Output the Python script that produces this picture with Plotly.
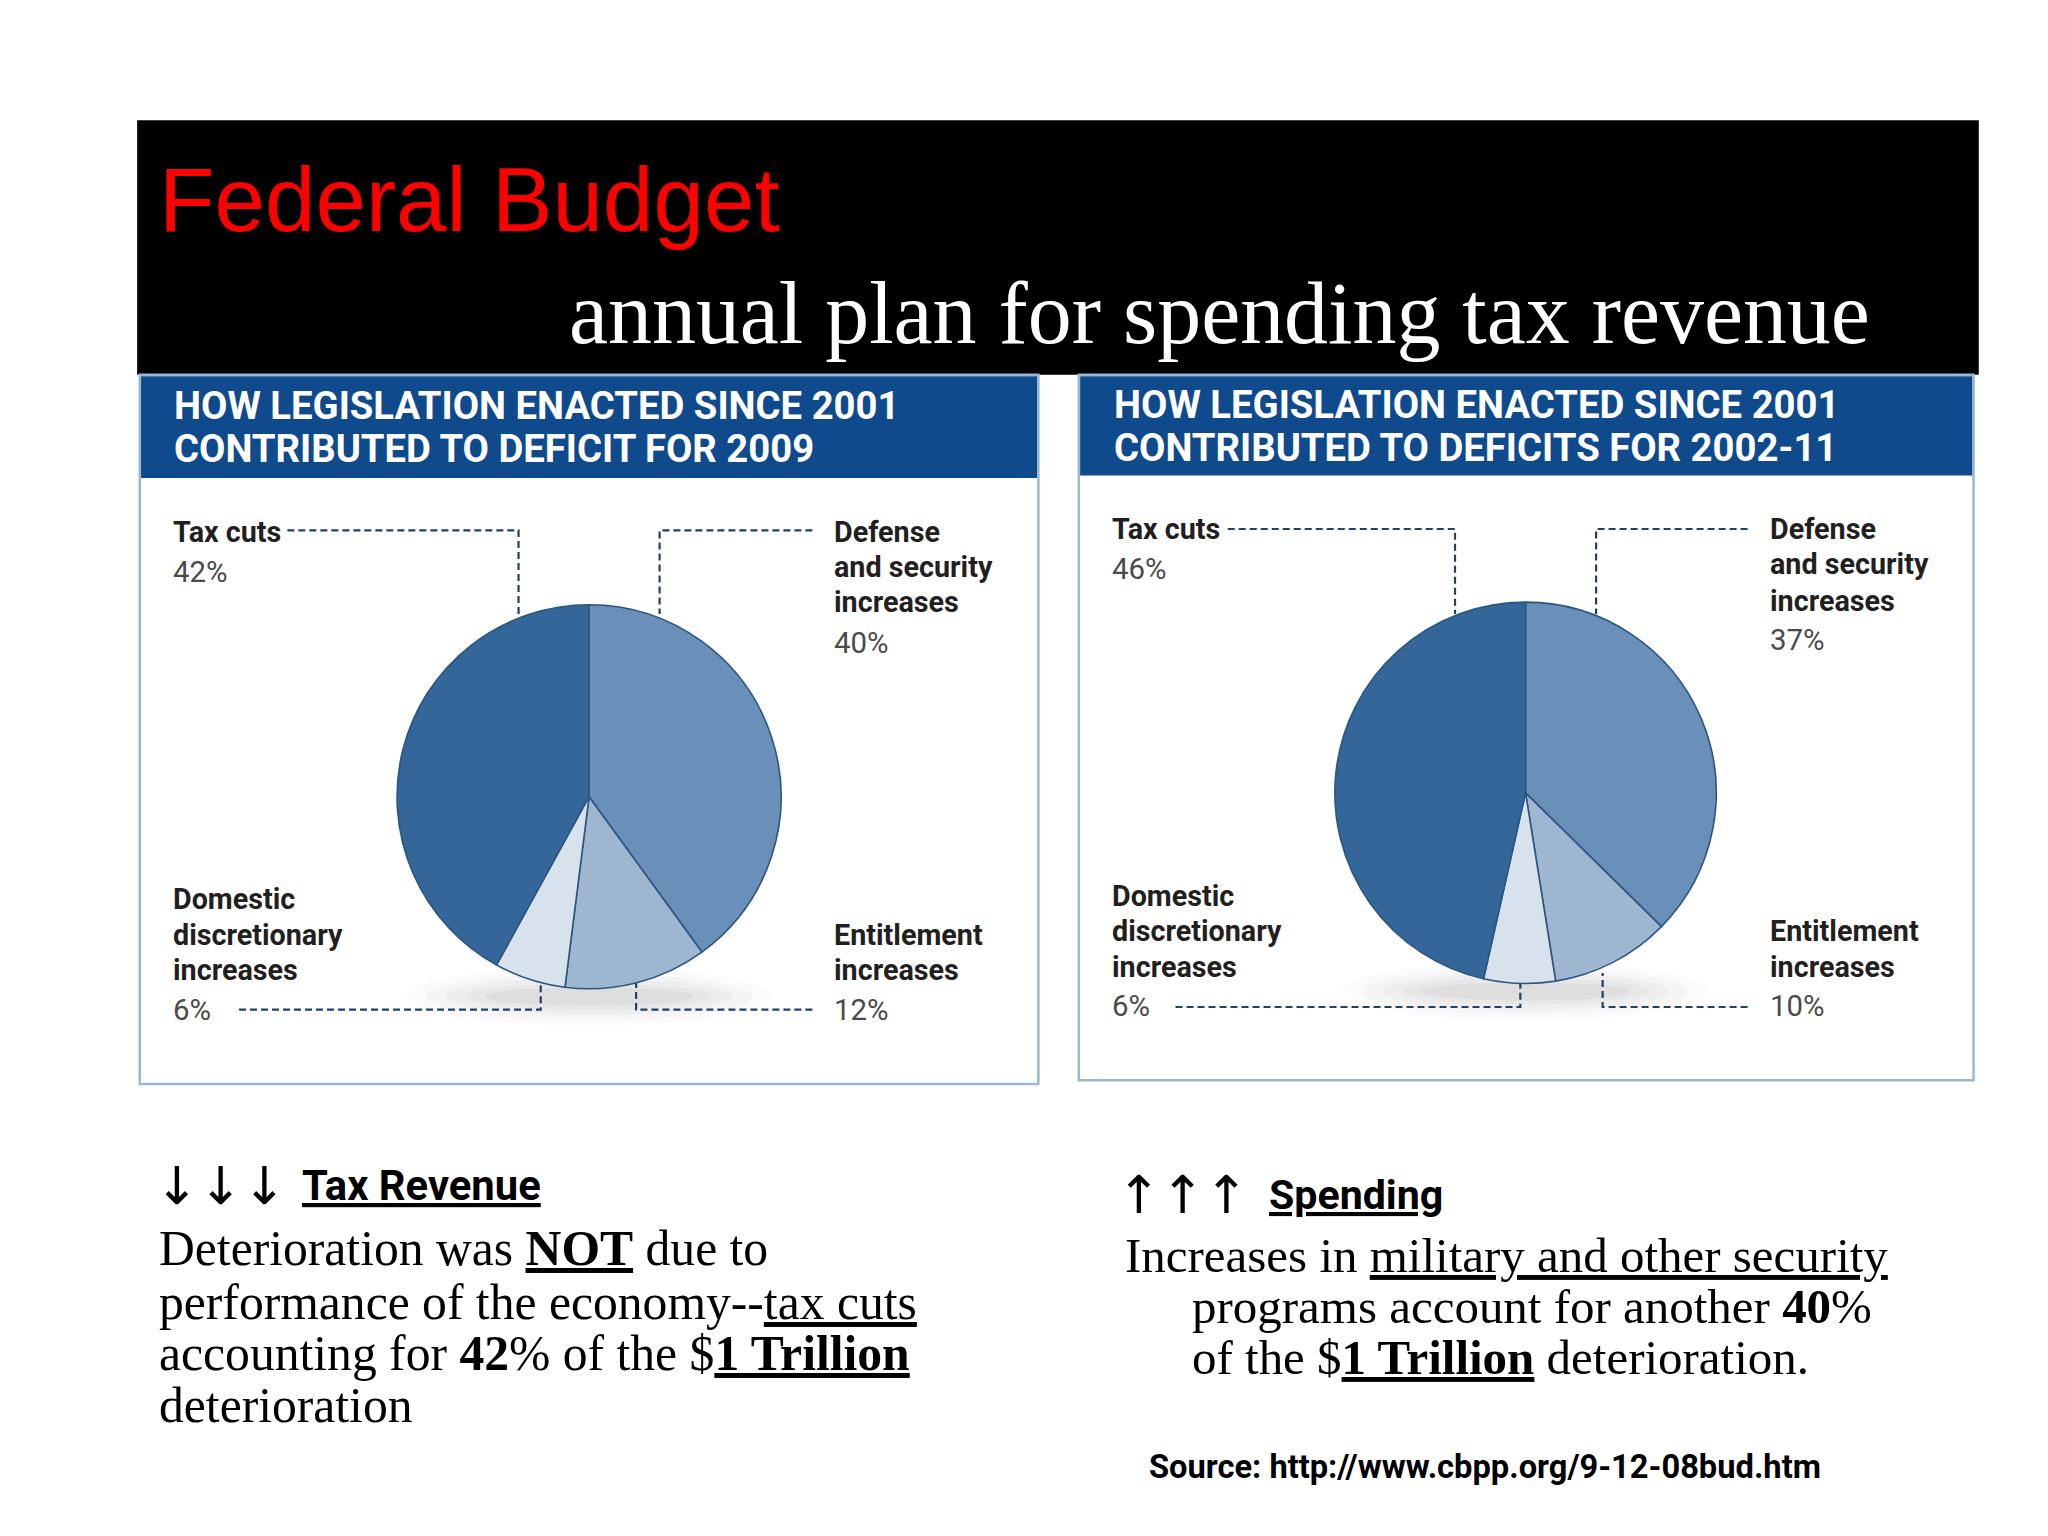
import plotly.graph_objects as go

# ---------------- data ----------------
categories = ["Defense and security increases", "Entitlement increases",
              "Domestic discretionary increases", "Tax cuts"]
share_2009 = [40, 12, 6, 42]
share_2002_11 = [37, 10, 6, 46]
slice_colors = ["#6a8fb8", "#9fb6d1", "#d7e2ed", "#34669a"]
panel_titles = [["HOW LEGISLATION ENACTED SINCE 2001", "CONTRIBUTED TO DEFICIT FOR 2009"],
                ["HOW LEGISLATION ENACTED SINCE 2001", "CONTRIBUTED TO DEFICITS FOR 2002-11"]]
label_lines = {
    "Tax cuts": ["Tax cuts"],
    "Defense and security increases": ["Defense", "and security", "increases"],
    "Domestic discretionary increases": ["Domestic", "discretionary", "increases"],
    "Entitlement increases": ["Entitlement", "increases"],
}

W, H = 2048, 1536
REFW, REFH = 1568.0, 1176.0
FS = W / REFW


def px(x):
    return x / REFW


def py(y):
    return 1 - y / REFH


fig = go.Figure()
shapes = []
ann = []


def text(t, x, y, size, color="#000", family="Roboto", weight="normal", xanchor="left"):
    ann.append(dict(text=t, x=px(x), y=py(y), xref="paper", yref="paper",
                    xanchor=xanchor, yanchor="middle", showarrow=False,
                    font=dict(size=size * FS, color=color, family=family, weight=weight)))


def rect(x0, y0, x1, y1, fill, line=None, lw=0):
    shapes.append(dict(type="rect", xref="paper", yref="paper", x0=px(x0), x1=px(x1),
                       y0=py(y1), y1=py(y0), fillcolor=fill,
                       line=dict(color=line or fill, width=lw), layer="below"))


def leader(pts):
    d = "M " + " L ".join(f"{px(a):.5f},{py(b):.5f}" for a, b in pts)
    shapes.append(dict(type="path", path=d, xref="paper", yref="paper",
                       line=dict(color="#1f426b", width=2.2, dash="7px,4px"), layer="below"))


# ---------------- header ----------------
rect(105, 92, 1515, 287, "#000000")
text("Federal Budget", 120, 153, 69.5, color="#ff0000", family="Liberation Sans")
text("annual plan for spending tax revenue", 434, 240, 67.3, color="#ffffff", family="Liberation Serif")

# ---------------- panels ----------------
panels = [
    dict(x0=107, x1=795, y1=830, band=366, cx=451, cy=610, r=147, values=share_2009,
         tx=132, ty=(311, 344),
         lab={"Tax cuts": (131, [407], 438),
              "Defense and security increases": (637, [407, 434, 461], 492),
              "Domestic discretionary increases": (131, [688, 716, 743], 773),
              "Entitlement increases": (637, [716, 743], 773)},
         lines=[[(220, 406), (397, 406), (397, 470)],
                [(622, 406), (505, 406), (505, 470)],
                [(183, 773), (414, 773), (414, 752)],
                [(622, 773), (487, 773), (487, 752)]]),
    dict(x0=826, x1=1511, y1=827, band=364, cx=1168, cy=607, r=146, values=share_2002_11,
         tx=851, ty=(310, 343),
         lab={"Tax cuts": (850, [405], 436),
              "Defense and security increases": (1354, [405, 432, 460], 490),
              "Domestic discretionary increases": (850, [686, 713, 740], 770),
              "Entitlement increases": (1354, [713, 740], 770)},
         lines=[[(940, 405), (1114, 405), (1114, 470)],
                [(1338, 405), (1222, 405), (1222, 470)],
                [(900, 771), (1164, 771), (1164, 749)],
                [(1338, 771), (1227, 771), (1227, 745)]]),
]

for i, p in enumerate(panels):
    rect(p["x0"], 287, p["x1"], p["y1"], "#ffffff", line="#9ab8cf", lw=2.5)
    rect(p["x0"] + 1, 288, p["x1"] - 1, p["band"], "#0f4a8c")
    text(panel_titles[i][0], p["tx"], p["ty"][0], 29.3, color="#ffffff", weight="bold")
    text(panel_titles[i][1], p["tx"], p["ty"][1], 29.3, color="#ffffff", weight="bold")
    # soft shadow beneath the pie
    for rx, ry, op in [(140, 22, 0.03), (125, 18, 0.04), (110, 14, 0.05), (95, 10, 0.06), (80, 7, 0.07)]:
        shapes.append(dict(type="circle", xref="paper", yref="paper",
                           x0=px(p["cx"] - rx), x1=px(p["cx"] + rx),
                           y0=py(p["cy"] + p["r"] + 6 + ry), y1=py(p["cy"] + p["r"] + 6 - ry),
                           fillcolor="#707070", opacity=op, line=dict(width=0), layer="below"))
    for pts in p["lines"]:
        leader(pts)
    fig.add_trace(go.Pie(
        labels=categories, values=p["values"], sort=False, direction="clockwise", rotation=0,
        textinfo="none", hoverinfo="label+percent", showlegend=False,
        marker=dict(colors=slice_colors, line=dict(color="#2b5682", width=1.6)),
        domain=dict(x=[px(p["cx"] - p["r"]), px(p["cx"] + p["r"])],
                    y=[py(p["cy"] + p["r"]), py(p["cy"] - p["r"])])))
    for cat, v in zip(categories, p["values"]):
        lx, lys, pcty = p["lab"][cat]
        for line, ly in zip(label_lines[cat], lys):
            text(line, lx, ly, 22, color="#231f20", weight="bold")
        text(f"{v}%", lx, pcty, 22.5, color="#4a4a4a")

# ---------------- bottom notes ----------------
SERIF = "Liberation Serif"
text("↓↓↓", 117, 908, 40, family="DejaVu Sans")
text("<u>Tax Revenue</u>", 230, 908, 32, weight="bold")
text("Deterioration was <b><u>NOT</u></b> due to", 120, 956, 38, family=SERIF)
text("performance of the economy--<u>tax cuts</u>", 120, 997, 38, family=SERIF)
text(f"accounting for <b>{share_2009[3]}</b>% of the $<b><u>1 Trillion</u></b>", 120, 1036, 38, family=SERIF)
text("deterioration", 120, 1076, 38, family=SERIF)

text("↑↑↑", 854, 915, 40, family="DejaVu Sans")
text("<u>Spending</u>", 970, 915, 31.5, weight="bold")
text("Increases in <u>military and other security</u>", 860, 961, 37.5, family=SERIF)
text(f"programs account for another <b>{share_2009[0]}</b>%", 911, 1000, 37.5, family=SERIF)
text("of the $<b><u>1 Trillion</u></b> deterioration.", 911, 1039, 37.5, family=SERIF)

text("Source: http://www.cbpp.org/9-12-08bud.htm", 878, 1123, 25, weight="bold")

fig.update_layout(width=W, height=H, margin=dict(l=0, r=0, t=0, b=0),
                  paper_bgcolor="#ffffff", plot_bgcolor="#ffffff",
                  shapes=shapes, annotations=ann)

fig.write_html("out.html", config={"displayModeBar": False},
               post_script="document.body.style.margin='0';")
